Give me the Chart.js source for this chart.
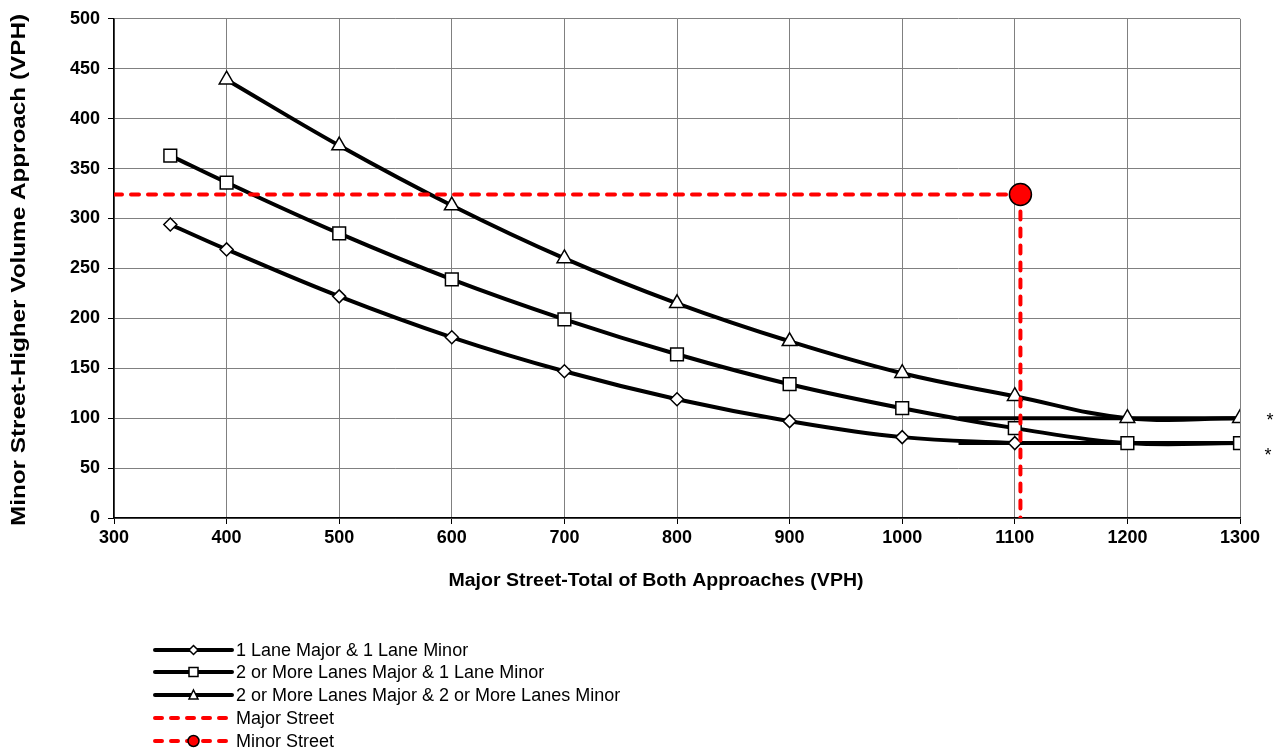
<!DOCTYPE html>
<html>
<head>
<meta charset="utf-8">
<script src="https://cdn.jsdelivr.net/npm/chart.js@4.4.0/dist/chart.umd.min.js"></script>
<style>
  html, body { margin: 0; padding: 0; background: #fff; }
  #wrap { width: 1281px; height: 750px; position: relative; }
</style>
</head>
<body>
<div id="wrap"><canvas id="chart"></canvas></div>
<script>
// Datos
const majorVolumes = [350, 400, 500, 600, 700, 800, 900, 1000, 1100, 1200, 1300];
const oneLaneOneLane = [294, 269, 222, 181, 147, 119, 97, 81, 75, null, null];
const twoLanesOneLane = [363, 336, 285, 239, 199, 164, 134, 110, 90, 75, 75];
const twoLanesTwoLanes = [null, 439, 373, 313, 260, 215, 177, 145, 122, 100, 100];

// Mínimos (*) a la derecha
const minimumX = [1050, 1300];
const minimumOneLane = [75, 75];
const minimumTwoLanes = [100, 100];

// Punto del caso analizado
const siteMajor = 1105;
const siteMinor = 324;

const xTicks = [300, 400, 500, 600, 700, 800, 900, 1000, 1100, 1200, 1300];
const yTicks = [0, 50, 100, 150, 200, 250, 300, 350, 400, 450, 500];

const xTitle = "Major Street-Total of Both Approaches (VPH)";
const yTitle = "Minor Street-Higher Volume Approach (VPH)";

const legendLabels = [
    "1 Lane Major & 1 Lane Minor",
    "2 or More Lanes Major & 1 Lane Minor",
    "2 or More Lanes Major & 2 or More Lanes Minor",
    "Major Street",
    "Minor Street"
];

const FONT = "Arial, 'Liberation Sans', sans-serif";

function toPoints(xs, ys) {
    const pts = [];
    xs.forEach((x, i) => {
        if (ys[i] !== null) pts.push({ x: x, y: ys[i] });
    });
    return pts;
}

function curve(label, data, style, radius) {
    return {
        label: label,
        data: data,
        borderColor: "#000",
        borderWidth: 4,
        tension: 0.4,
        pointStyle: style,
        pointRadius: radius,
        pointBackgroundColor: "#fff",
        pointBorderColor: "#000",
        pointBorderWidth: 1.5,
        order: 1
    };
}

// Texto estirado a un largo dado (títulos de ejes)
function drawStretched(ctx, text, font, length) {
    ctx.font = font;
    const w = ctx.measureText(text).width;
    ctx.scale(length / w, 1);
    ctx.fillText(text, 0, 0);
}

// Leyenda, títulos y asteriscos dibujados a mano
const extrasPlugin = {
    id: "extras",
    afterDraw(chart) {
        const ctx = chart.ctx;
        const x0 = 155, x1 = 232;
        const ys = [650, 672, 695, 718, 741];
        ctx.save();
        ys.forEach((y, i) => {
            ctx.beginPath();
            ctx.lineWidth = 4;
            ctx.lineCap = "round";
            if (i < 3) {
                ctx.strokeStyle = "#000";
                ctx.setLineDash([]);
            } else {
                ctx.strokeStyle = "#f00";
                ctx.setLineDash([7, 9]);
            }
            ctx.moveTo(x0, y);
            ctx.lineTo(x1, y);
            ctx.stroke();
            ctx.setLineDash([]);
            const cx = (x0 + x1) / 2;
            ctx.lineWidth = 1.5;
            ctx.strokeStyle = "#000";
            ctx.beginPath();
            if (i === 0) {
                ctx.moveTo(cx, y - 4.5); ctx.lineTo(cx + 4.5, y); ctx.lineTo(cx, y + 4.5); ctx.lineTo(cx - 4.5, y); ctx.closePath();
                ctx.fillStyle = "#fff";
            } else if (i === 1) {
                ctx.rect(cx - 4.5, y - 4.5, 9, 9);
                ctx.fillStyle = "#fff";
            } else if (i === 2) {
                ctx.moveTo(cx, y - 5); ctx.lineTo(cx + 4.5, y + 4); ctx.lineTo(cx - 4.5, y + 4); ctx.closePath();
                ctx.fillStyle = "#fff";
            } else if (i === 4) {
                ctx.arc(cx, y, 5.5, 0, Math.PI * 2);
                ctx.fillStyle = "#f00";
            }
            if (i !== 3) {
                ctx.fill();
                ctx.stroke();
            }
            ctx.fillStyle = "#000";
            ctx.font = "18px " + FONT;
            ctx.textBaseline = "middle";
            ctx.textAlign = "left";
            ctx.fillText(legendLabels[i], x1 + 4, y + 1);
        });

        // Asteriscos junto a los mínimos
        const xs = chart.scales.x, yS = chart.scales.y;
        ctx.font = "18px " + FONT;
        ctx.textAlign = "center";
        ctx.textBaseline = "middle";
        ctx.fillText("*", xs.right + 30, yS.getPixelForValue(100) + 3);
        ctx.fillText("*", xs.right + 28, yS.getPixelForValue(100) + 38);

        // Título eje X
        ctx.save();
        ctx.translate(656, 581);
        drawStretched(ctx, xTitle, "bold 18px " + FONT, 415);
        ctx.restore();

        // Título eje Y (vertical)
        ctx.save();
        ctx.translate(19, 270);
        ctx.rotate(-Math.PI / 2);
        drawStretched(ctx, yTitle, "bold 20px " + FONT, 512);
        ctx.restore();

        ctx.restore();
    }
};

const ctx = document.getElementById("chart").getContext("2d");
new Chart(ctx, {
    type: "line",
    data: {
        datasets: [
            {
                label: "Major Street",
                data: [{ x: 300, y: siteMinor }, { x: siteMajor, y: siteMinor }],
                borderColor: "#f00",
                borderWidth: 4,
                borderDash: [8, 9],
                borderCapStyle: "round",
                pointRadius: 0,
                order: 0
            },
            {
                label: "Minor Street",
                data: [{ x: siteMajor, y: siteMinor }, { x: siteMajor, y: 0 }],
                borderColor: "#f00",
                borderWidth: 4,
                borderDash: [8, 9],
                borderCapStyle: "round",
                pointRadius: [11, 0],
                pointBackgroundColor: "#f00",
                pointBorderColor: "#000",
                pointBorderWidth: 1.5,
                order: -1
            },
            curve(legendLabels[0], toPoints(majorVolumes, oneLaneOneLane), "rectRot", 6.5),
            curve(legendLabels[1], toPoints(majorVolumes, twoLanesOneLane), "rect", 9),
            curve(legendLabels[2], toPoints(majorVolumes, twoLanesTwoLanes), "triangle", 8.5),
            {
                label: "min 75",
                data: toPoints(minimumX, minimumOneLane),
                borderColor: "#000",
                borderWidth: 4,
                pointRadius: 0,
                order: 2
            },
            {
                label: "min 100",
                data: toPoints(minimumX, minimumTwoLanes),
                borderColor: "#000",
                borderWidth: 4,
                pointRadius: 0,
                order: 2
            }
        ]
    },
    options: {
        responsive: true,
        maintainAspectRatio: false,
        animation: false,
        layout: { padding: { left: 0, right: 41, top: 18, bottom: 150 } },
        plugins: {
            legend: { display: false },
            tooltip: { enabled: false }
        },
        scales: {
            x: {
                type: "linear",
                min: 300,
                max: 1300,
                afterBuildTicks: (axis) => { axis.ticks = xTicks.map(v => ({ value: v })); },
                afterFit: (axis) => { axis.height = 82; },
                ticks: {
                    color: "#000",
                    font: { family: FONT, size: 18, weight: "bold" },
                    padding: 3,
                    callback: (v) => String(v)
                },
                grid: { color: "#808080", lineWidth: 1, tickLength: 6, tickColor: "#000" },
                border: { color: "#000", width: 1.5 }
            },
            y: {
                type: "linear",
                min: 0,
                max: 500,
                afterBuildTicks: (axis) => { axis.ticks = yTicks.map(v => ({ value: v })); },
                afterFit: (axis) => { axis.width = 114; },
                ticks: {
                    color: "#000",
                    font: { family: FONT, size: 18, weight: "bold" },
                    padding: 8,
                    callback: (v) => String(v)
                },
                grid: { color: "#808080", lineWidth: 1, tickLength: 6, tickColor: "#000" },
                border: { color: "#000", width: 1.5 }
            }
        }
    },
    plugins: [extrasPlugin]
});
</script>
</body>
</html>
